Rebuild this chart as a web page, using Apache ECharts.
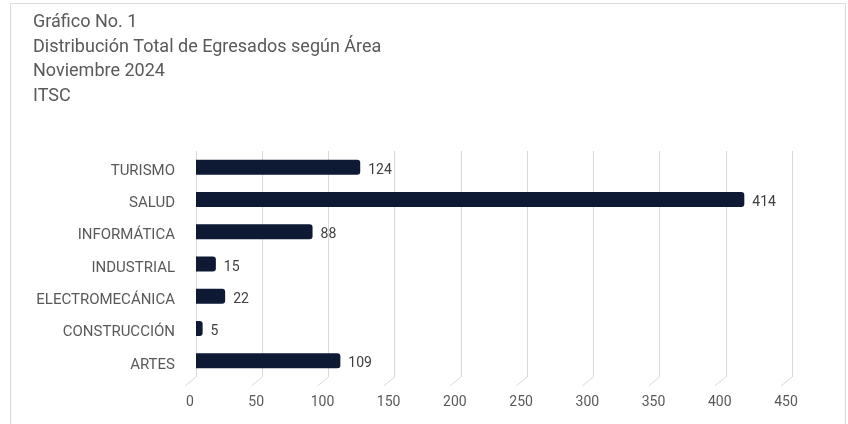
<!DOCTYPE html>
<html>
<head>
<meta charset="utf-8">
<script src="https://cdn.jsdelivr.net/npm/echarts@6/dist/echarts.min.js"></script>
<style>
  html, body { margin: 0; padding: 0; background: #fff; }
  #chart { width: 848px; height: 424px; }
</style>
</head>
<body>
<div id="chart"></div>
<script>
const titleLines = ['Gráfico No. 1', 'Distribución Total de Egresados según Área', 'Noviembre 2024', 'ITSC'];
const areas = ['ARTES', 'CONSTRUCCIÓN', 'ELECTROMECÁNICA', 'INDUSTRIAL', 'INFORMÁTICA', 'SALUD', 'TURISMO'];
const graduates = [109, 5, 22, 15, 88, 414, 124];
const xTicks = [0, 50, 100, 150, 200, 250, 300, 350, 400, 450];

const chart = echarts.init(document.getElementById('chart'));

const options = {
  animation: false,
  textStyle: { fontFamily: 'Roboto' },
  graphic: [{
    type: 'rect',
    shape: { x: 10.5, y: 3.5, width: 835, height: 430 },
    style: { fill: 'none', stroke: '#d9d9d9', lineWidth: 1 },
    silent: true,
  }],
  title: {
    text: titleLines.join('\n'),
    left: 28,
    top: 5,
    textStyle: {
      fontSize: 18,
      fontWeight: 'normal',
      color: '#595959',
      lineHeight: 24.7,
    },
  },
  grid: {
    left: 196,
    right: 56,
    top: 151,
    bottom: 47,
  },
  xAxis: {
    type: 'value',
    min: 0,
    max: 450,
    interval: 50,
    axisLine: { show: false },
    axisTick: { show: false },
    splitLine: { lineStyle: { color: '#d9d9d9', width: 1 } },
    axisLabel: {
      color: '#595959',
      fontSize: 14,
      margin: 18,
      padding: [0, 12, 0, 0],
    },
  },
  yAxis: {
    type: 'category',
    data: areas,
    axisLine: { show: false },
    axisTick: { show: false },
    axisLabel: {
      color: '#595959',
      fontSize: 15,
      margin: 21,
      formatter: '{a|{value}}',
      rich: {
        a: { fontSize: 15, color: '#595959', padding: [8, 0, 0, 0] },
      },
    },
  },
  series: [
    {
      type: 'bar',
      data: graduates,
      barWidth: 15,
      itemStyle: { color: '#0e1a33', borderRadius: [0, 3, 3, 0] },
      label: {
        show: true,
        position: 'right',
        distance: 8,
        offset: [0, 3],
        color: '#404040',
        fontSize: 14,
      },
    },
    {
      // slanted floor edge under each gridline
      type: 'custom',
      coordinateSystem: 'cartesian2d',
      silent: true,
      clip: false,
      z: 1,
      encode: { x: 0, y: 1 },
      data: xTicks.map(v => [v, 0]),
      renderItem: function (params, api) {
        const p = api.coord([api.value(0), 0]);
        const bottom = api.coord([0, 0])[1] + api.size([0, 1])[1] / 2;
        return {
          type: 'line',
          shape: { x1: p[0], y1: bottom, x2: p[0] - 11, y2: bottom + 9 },
          style: { stroke: '#d9d9d9', lineWidth: 1 },
        };
      },
    },
  ],
};

chart.setOption(options);
</script>
</body>
</html>
